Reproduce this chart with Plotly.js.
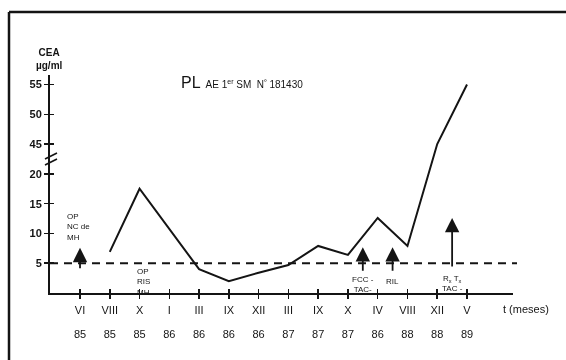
<!DOCTYPE html>
<html>
<head>
<meta charset="utf-8">
<script src="https://cdn.plot.ly/plotly-3.0.1.min.js"></script>
<style>html,body{margin:0;padding:0;background:#fff;}#chart{width:566px;height:360px;filter:grayscale(100%);}</style>
</head>
<body>
<div id="chart"></div>
<script>
// ---- data ----
const monthLabels = ["VI","VIII","X","I","III","IX","XII","III","IX","X","IV","VIII","XII","V"];
const yearLabels  = ["85","85","85","86","86","86","86","87","87","87","86","88","88","89"];
const ceaValues   = [null, 6.9, 17.5, null, 4.0, 2.0, 3.4, 4.7, 7.9, 6.4, 12.6, 7.9, 45, 55];
const yTickValues = [5, 10, 15, 20, 45, 50, 55];
const normalLimit = 5;
// events (arrows): position between ticks, arrow tip and tail values
const eventPos  = [0, 9.5, 10.5, 12.5];
const eventTip  = [7.6, 7.7, 7.7, 12.6];
const eventBase = [3.9, 3.5, 3.5, 4.2];

// ---- broken axis mapping (20 -> 45 gap) ----
function mapY(v){ return v == null ? null : (v >= 45 ? v - 20 : v); }

const idx = monthLabels.map((_, i) => i);
const ink = '#141414';
const FONT = 'Liberation Sans, Arial, sans-serif';
const fnt = (size) => ({family: FONT, size: size, color: ink});

// plot geometry helpers (for decorations only)
const L = 50, R = 53, T = 75, B = 67, W = 566, H = 360;
const pw = W - L - R, ph = H - T - B;
const px = x => (x - L) / pw;
const py = y => (H - B - y) / ph;

const traces = [{
  x: idx, y: ceaValues.map(mapY), type: 'scatter', mode: 'lines',
  connectgaps: true, line: {color: ink, width: 2}, hoverinfo: 'skip', showlegend: false
}, {
  x: idx, y: idx.map(() => null), xaxis: 'x2', yaxis: 'y2', type: 'scatter', mode: 'lines', showlegend: false
}];

const yT = yTickValues.map(mapY);
const annotations = [];
// event arrows
eventPos.forEach((p, k) => {
  annotations.push({x: p, y: eventTip[k], ax: p, ay: eventBase[k], axref: 'x', ayref: 'y',
    xref: 'x', yref: 'y', text: '', showarrow: true, arrowhead: 2, arrowsize: 1.6, arrowwidth: 1.8,
    arrowcolor: ink, standoff: 0});
});
annotations.push(
  {x: -0.5, y: 13.9, xref: 'x', yref: 'y', xanchor: 'left', yanchor: 'top', align: 'left', showarrow: false,
   text: 'OP<br>NC de<br>MH', font: fnt(8)},
  {x: 1.85, y: 4.7, xref: 'x', yref: 'y', xanchor: 'left', yanchor: 'top', align: 'left', showarrow: false,
   text: 'OP<br>RIS<br>MH', font: fnt(8)},
  {x: 9.5, y: 3.4, xref: 'x', yref: 'y', xanchor: 'center', yanchor: 'top', align: 'center', showarrow: false,
   text: 'FCC -<br>TAC-', font: fnt(8)},
  {x: 10.5, y: 1.9, xref: 'x', yref: 'y', xanchor: 'center', yanchor: 'middle', showarrow: false,
   text: 'RIL', font: fnt(8)},
  {x: 12.5, y: 3.5, xref: 'x', yref: 'y', xanchor: 'center', yanchor: 'top', align: 'center', showarrow: false,
   text: 'R<sub>x</sub> T<sub>x</sub><br>TAC -', font: fnt(8)},
  {x: px(526), y: py(309), xref: 'paper', yref: 'paper', xanchor: 'center', yanchor: 'middle', showarrow: false,
   text: 't (meses)', font: fnt(11)},
  {x: px(49), y: py(59), xref: 'paper', yref: 'paper', xanchor: 'center', yanchor: 'middle', showarrow: false,
   text: '<b>CEA</b><br><b>µg/ml</b>', font: fnt(10)},
  {x: px(179), y: py(82), xref: 'paper', yref: 'paper', xanchor: 'left', yanchor: 'middle', showarrow: false,
   text: '<span style="font-size:16px">PL</span>  AE 1<sup>er</sup> SM  N<sup>º</sup> 181430',
   font: fnt(10)}
);

const shapes = [
  // threshold dashed line
  {type: 'line', xref: 'paper', yref: 'y', x0: 0, x1: px(517), y0: normalLimit, y1: normalLimit,
   line: {color: ink, width: 2, dash: '8px,6px'}},
  // axis break marks
  {type: 'line', xref: 'paper', yref: 'paper', x0: px(45), x1: px(57), y0: py(159), y1: py(153), line: {color: ink, width: 1.6}},
  {type: 'line', xref: 'paper', yref: 'paper', x0: px(45), x1: px(57), y0: py(165), y1: py(159), line: {color: ink, width: 1.6}},
  // frame
  {type: 'line', xref: 'paper', yref: 'paper', x0: px(9), x1: px(9), y0: py(360), y1: py(12), line: {color: ink, width: 2.5}},
  {type: 'line', xref: 'paper', yref: 'paper', x0: px(9), x1: px(566), y0: py(12), y1: py(12), line: {color: ink, width: 2.5}}
];

const xr = [-1.008, 14.545], yr = [0, 36.6];
const layout = {
  width: W, height: H, margin: {l: L, r: R, t: T, b: B},
  paper_bgcolor: '#fff', plot_bgcolor: '#fff', showlegend: false,
  font: fnt(11),
  xaxis: {range: xr, tickvals: idx, ticktext: monthLabels, ticks: 'outside', ticklen: 4, tickwidth: 1.5,
    tickcolor: ink, showline: true, linecolor: ink, linewidth: 2, showgrid: false, zeroline: false,
    tickfont: fnt(11), ticklabelstandoff: 2, fixedrange: true},
  xaxis2: {range: xr, overlaying: 'x', anchor: 'y', side: 'bottom', tickvals: idx, ticktext: yearLabels,
    ticks: 'inside', ticklen: 4, tickwidth: 1.5, tickcolor: ink, showline: false, showgrid: false, zeroline: false,
    tickfont: fnt(11), ticklabelstandoff: 33},
  yaxis: {range: yr, tickvals: yT, ticktext: yTickValues.map(v => '<b>' + v + '</b>'), ticks: 'outside', ticklen: 4, tickwidth: 1.5,
    tickcolor: ink, showline: true, linecolor: ink, linewidth: 2, showgrid: false, zeroline: false,
    tickfont: fnt(11), ticklabelstandoff: 0},
  yaxis2: {range: yr, overlaying: 'y', anchor: 'x', side: 'left', tickvals: yT, ticks: 'inside', ticklen: 4,
    tickwidth: 1.5, tickcolor: ink, showticklabels: false, showline: false, showgrid: false, zeroline: false},
  annotations, shapes
};
Plotly.newPlot('chart', traces, layout, {staticPlot: true, displayModeBar: false});
</script>
</body>
</html>
